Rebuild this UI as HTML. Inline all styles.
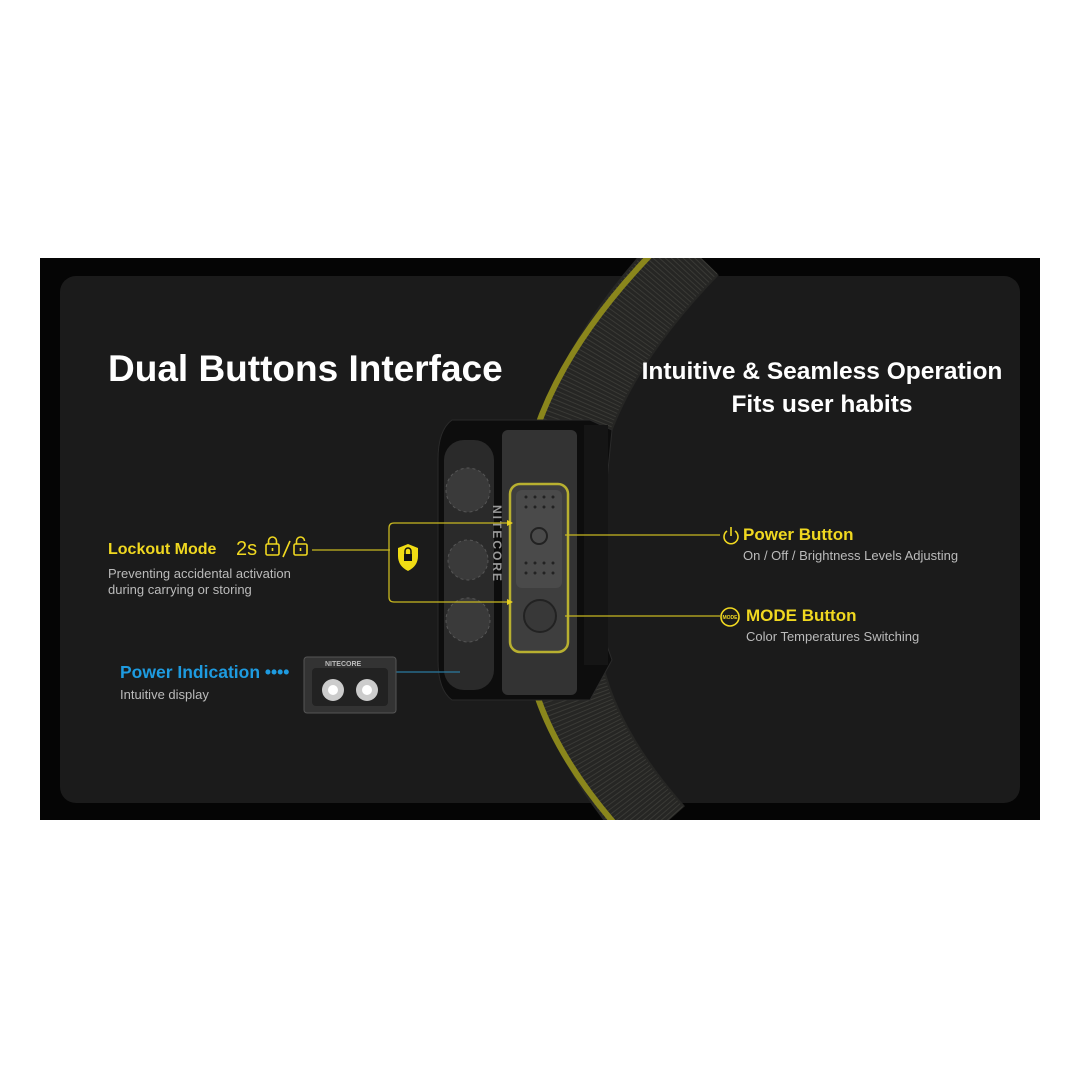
<!DOCTYPE html>
<html><head><meta charset="utf-8"><style>
body{margin:0;width:1080px;height:1080px;background:#fff;position:relative;overflow:hidden;font-family:"Liberation Sans",sans-serif}
.t{position:absolute;white-space:nowrap}
</style></head><body>
<svg width="1080" height="1080" style="position:absolute;left:0;top:0">
<defs><clipPath id="c"><rect x="40" y="258" width="1000" height="562"/></clipPath></defs>
<rect x="40" y="258" width="1000" height="562" fill="#050505"/>
<rect x="60" y="276" width="960" height="527" rx="16" fill="#1b1b1b"/>
<g clip-path="url(#c)">
<path d="M655 250 Q490 420 528 580 Q505 700 620 830" transform="translate(38,0)" fill="none" stroke="#262624" stroke-width="72"/>
<path d="M655 250 Q490 420 528 580 Q505 700 620 830" transform="translate(38,0)" fill="none" stroke="#3a3a36" stroke-width="68" stroke-dasharray="1 3"/>
<path d="M655 250 Q490 420 528 580 Q505 700 620 830" fill="none" stroke="#8a861c" stroke-width="6"/>
</g>
<!-- headlamp body -->
<path d="M452 420 L590 420 L612 430 L605 500 L605 640 L612 660 L590 700 L452 700 Q438 690 438 660 L438 460 Q438 430 452 420Z" fill="#0d0d0d" stroke="#2a2a2a"/>
<rect x="444" y="440" width="50" height="250" rx="20" fill="#2a2a2a"/>
<circle cx="468" cy="490" r="22" fill="#3a3a3a" stroke="#555" stroke-dasharray="3 3"/>
<circle cx="468" cy="560" r="20" fill="#3a3a3a" stroke="#555" stroke-dasharray="3 3"/>
<circle cx="468" cy="620" r="22" fill="#3a3a3a" stroke="#555" stroke-dasharray="3 3"/>
<rect x="502" y="430" width="75" height="265" rx="6" fill="#333"/>
<rect x="584" y="425" width="24" height="240" fill="#151515"/>
<rect x="510" y="484" width="58" height="168" rx="10" fill="#3e3e3e" stroke="#b8b030" stroke-width="2.5"/>
<rect x="516" y="490" width="46" height="98" rx="6" fill="#4a4a4a"/>
<circle cx="540" cy="616" r="16" fill="#383838" stroke="#222" stroke-width="2"/>
<g fill="#222"><circle cx="526" cy="497" r="1.5"/><circle cx="535" cy="497" r="1.5"/><circle cx="544" cy="497" r="1.5"/><circle cx="553" cy="497" r="1.5"/><circle cx="526" cy="507" r="1.5"/><circle cx="535" cy="507" r="1.5"/><circle cx="544" cy="507" r="1.5"/><circle cx="553" cy="507" r="1.5"/><circle cx="526" cy="563" r="1.5"/><circle cx="535" cy="563" r="1.5"/><circle cx="544" cy="563" r="1.5"/><circle cx="553" cy="563" r="1.5"/><circle cx="526" cy="573" r="1.5"/><circle cx="535" cy="573" r="1.5"/><circle cx="544" cy="573" r="1.5"/><circle cx="553" cy="573" r="1.5"/></g>
<circle cx="539" cy="536" r="8" fill="none" stroke="#222" stroke-width="2"/>
<text x="0" y="0" transform="translate(493,505) rotate(90)" fill="#999" font-size="12" font-weight="bold" letter-spacing="2">NITECORE</text>
<!-- connectors -->
<g stroke="#c8b820" stroke-width="1.3" fill="none">
<line x1="312" y1="550" x2="390" y2="550"/>
<path d="M512 523 L394 523 Q389 523 389 528 L389 597 Q389 602 394 602 L512 602"/>
<line x1="565" y1="535" x2="720" y2="535"/>
<line x1="565" y1="616" x2="720" y2="616"/>
</g>
<path d="M507 520 L513 523 L507 526Z M507 599 L513 602 L507 605Z" fill="#e8d020"/>
<path d="M408 544 L418 548 L418 556 Q418 566 408 571 Q398 566 398 556 L398 548Z" fill="#f0dc14"/>
<rect x="404" y="554" width="8" height="7" fill="#111"/><path d="M405 554 v-3 a3 3 0 0 1 6 0 v3" stroke="#111" stroke-width="1.5" fill="none"/>
<line x1="396" y1="672" x2="460" y2="672" stroke="#2a7aa0" stroke-width="1.3"/>
<rect x="304" y="657" width="92" height="56" rx="3" fill="#333" stroke="#555"/>
<rect x="312" y="668" width="76" height="38" rx="4" fill="#222"/>
<circle cx="333" cy="690" r="11" fill="#ccc"/><circle cx="367" cy="690" r="11" fill="#ccc"/>
<circle cx="333" cy="690" r="5" fill="#fff"/><circle cx="367" cy="690" r="5" fill="#fff"/>
<text x="325" y="666" fill="#bbb" font-size="7" font-weight="bold">NITECORE</text>
<!-- lock icons -->
<g stroke="#f0d820" stroke-width="1.6" fill="none">
<rect x="266" y="544" width="13" height="11" rx="1.5"/><path d="M268.5 544 v-3 a4 4 0 0 1 8 0 v3"/><line x1="272.5" y1="548" x2="272.5" y2="551"/>
<line x1="283" y1="557" x2="290" y2="541"/>
<rect x="294" y="544" width="13" height="11" rx="1.5"/><path d="M296.5 544 v-3 a4 4 0 0 1 8 0"/><line x1="300.5" y1="548" x2="300.5" y2="551"/>
</g>
<path d="M727 531 a7 7 0 1 0 8 0" stroke="#f0d820" stroke-width="1.6" fill="none"/>
<line x1="731" y1="527" x2="731" y2="536" stroke="#f0d820" stroke-width="1.6"/>
<circle cx="730" cy="617" r="9" fill="none" stroke="#f0d820" stroke-width="1.6"/>
<text x="730" y="619" fill="#f0d820" font-size="5" text-anchor="middle" font-weight="bold">MODE</text>
</svg>
<div class="t" style="left:108px;top:348px;font-size:37px;font-weight:bold;color:#fff">Dual Buttons Interface</div>
<div class="t" style="left:630px;top:355px;font-size:24.5px;font-weight:bold;color:#fff;width:384px;text-align:center;line-height:33px">Intuitive &amp; Seamless Operation<br>Fits user habits</div>
<div class="t" style="left:108px;top:541px;font-size:16px;font-weight:bold;color:#f0d820">Lockout Mode</div>
<div class="t" style="left:236px;top:538px;font-size:20px;color:#f0d820">2s</div>
<div class="t" style="left:108px;top:566px;font-size:13px;color:#bbb;line-height:16px">Preventing accidental activation<br>during carrying or storing</div>
<div class="t" style="left:120px;top:662px;font-size:17.5px;font-weight:bold;color:#1e9be0">Power Indication ••••</div>
<div class="t" style="left:120px;top:687px;font-size:13px;color:#bbb">Intuitive display</div>
<div class="t" style="left:743px;top:525px;font-size:17px;font-weight:bold;color:#f0d820">Power Button</div>
<div class="t" style="left:743px;top:548px;font-size:13px;color:#bbb">On / Off / Brightness Levels Adjusting</div>
<div class="t" style="left:746px;top:606px;font-size:17px;font-weight:bold;color:#f0d820">MODE Button</div>
<div class="t" style="left:746px;top:629px;font-size:13px;color:#bbb">Color Temperatures Switching</div>
</body></html>
